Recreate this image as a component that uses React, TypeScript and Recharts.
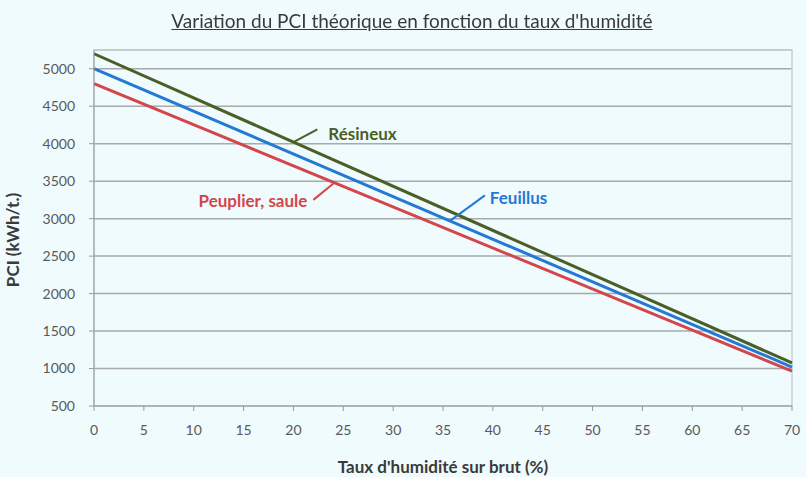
import { LineChart, Line, XAxis, YAxis, CartesianGrid, ReferenceLine, ReferenceDot, ReferenceArea, Label } from "recharts";

// humidity on raw mass (%)
const humidity = [0, 70];
const resineux = [5200, 1075];
const feuillus = [5000, 1020];
const peuplier = [4800, 965];

const xTicks = [0, 5, 10, 15, 20, 25, 30, 35, 40, 45, 50, 55, 60, 65, 70];
const yTicks = [500, 1000, 1500, 2000, 2500, 3000, 3500, 4000, 4500, 5000];
const xMinor = Array.from({ length: 71 }, (_, i) => i);
const yMinor = Array.from({ length: 48 }, (_, i) => 500 + i * 100);

// callouts: name, leader start / end, text anchor point
const calloutNames = ["Résineux", "Peuplier, saule", "Feuillus"];
const calloutLeaders = [
  [20, 4020, 22.4, 4190],
  [22, 3250, 24.1, 3480],
  [35.7, 2970, 39.2, 3310],
];
const calloutText = [
  [23.5, 4135],
  [21.4, 3242],
  [39.7, 3270],
];

const GREEN = "#4a5e26";
const BLUE = "#2479d4";
const RED = "#d3464a";
const calloutColors = [GREEN, RED, BLUE];
const BG = "#effbfd";

const data = humidity.map((h, i) => ({
  h,
  resineux: resineux[i],
  feuillus: feuillus[i],
  peuplier: peuplier[i],
}));

const font = "Lato, 'Open Sans', sans-serif";

export default function App() {
  return (
    <div style={{ position: "fixed", top: 0, left: 0, width: 806, height: 477, background: BG, fontFamily: font }}>
      <div
        style={{
          position: "absolute",
          top: 9,
          left: 0,
          width: 824,
          textAlign: "center",
          fontSize: 19,
          color: "#3a3a3a",
          textDecoration: "underline",
          zIndex: 1,
        }}
      >
        Variation du PCI théorique en fonction du taux d'humidité
      </div>
      <LineChart width={806} height={477} data={data} margin={{ top: 50, right: 14, bottom: 0, left: 0 }}>
        <ReferenceArea x1={0} x2={70} y1={500} y2={5250} fill="none" stroke="#c8d2d6" strokeWidth={1.5} />
        <CartesianGrid vertical={false} stroke="#a9a9a9" strokeWidth={1.5} />
        <XAxis
          dataKey="h"
          type="number"
          domain={[0, 70]}
          ticks={xTicks}
          height={71}
          tickSize={5}
          tickMargin={14}
          stroke="#9a9a9a"
          tick={{ fill: "#595959", fontSize: 14, fontFamily: font }}
        >
          <Label
            value="Taux d'humidité sur brut (%)"
            position="insideBottom"
            offset={4}
            style={{ fill: "#3a3a3a", fontSize: 17, fontWeight: 700, fontFamily: font }}
          />
        </XAxis>
        <XAxis
          xAxisId="minor"
          type="number"
          domain={[0, 70]}
          ticks={xMinor}
          height={0}
          mirror
          axisLine={false}
          tick={false}
          tickSize={4}
          tickLine={{ stroke: "#9a9a9a" }}
        />
        <YAxis
          type="number"
          domain={[500, 5250]}
          ticks={yTicks}
          width={94}
          tickSize={5}
          tickMargin={14}
          stroke="#9a9a9a"
          tick={{ fill: "#595959", fontSize: 14, fontFamily: font }}
        >
          <Label
            value="PCI (kWh/t.)"
            angle={-90}
            position="insideLeft"
            offset={13}
            dy={12}
            style={{ textAnchor: "middle", fill: "#3a3a3a", fontSize: 17, fontWeight: 700, fontFamily: font }}
          />
        </YAxis>
        <YAxis
          yAxisId="minor"
          type="number"
          domain={[500, 5250]}
          ticks={yMinor}
          width={0}
          mirror
          axisLine={false}
          tick={false}
          tickSize={3}
          tickLine={{ stroke: "#9a9a9a" }}
        />
        <Line dataKey="resineux" stroke={GREEN} strokeWidth={3} dot={false} isAnimationActive={false} />
        <Line dataKey="feuillus" stroke={BLUE} strokeWidth={3} dot={false} isAnimationActive={false} />
        <Line dataKey="peuplier" stroke={RED} strokeWidth={3} dot={false} isAnimationActive={false} />
        {calloutLeaders.map((s, i) => (
          <ReferenceLine
            key={"l" + i}
            segment={[
              { x: s[0], y: s[1] },
              { x: s[2], y: s[3] },
            ]}
            stroke={calloutColors[i]}
            strokeWidth={2}
          />
        ))}
        {calloutText.map((p, i) => (
          <ReferenceDot
            key={"t" + i}
            x={p[0]}
            y={p[1]}
            r={0}
            fill="none"
            stroke="none"
            label={{
              value: calloutNames[i],
              position: i === 1 ? "left" : "right",
              offset: 0,
              fill: calloutColors[i],
              fontSize: 17,
              fontWeight: 700,
              fontFamily: font,
            }}
          />
        ))}
      </LineChart>
    </div>
  );
}
